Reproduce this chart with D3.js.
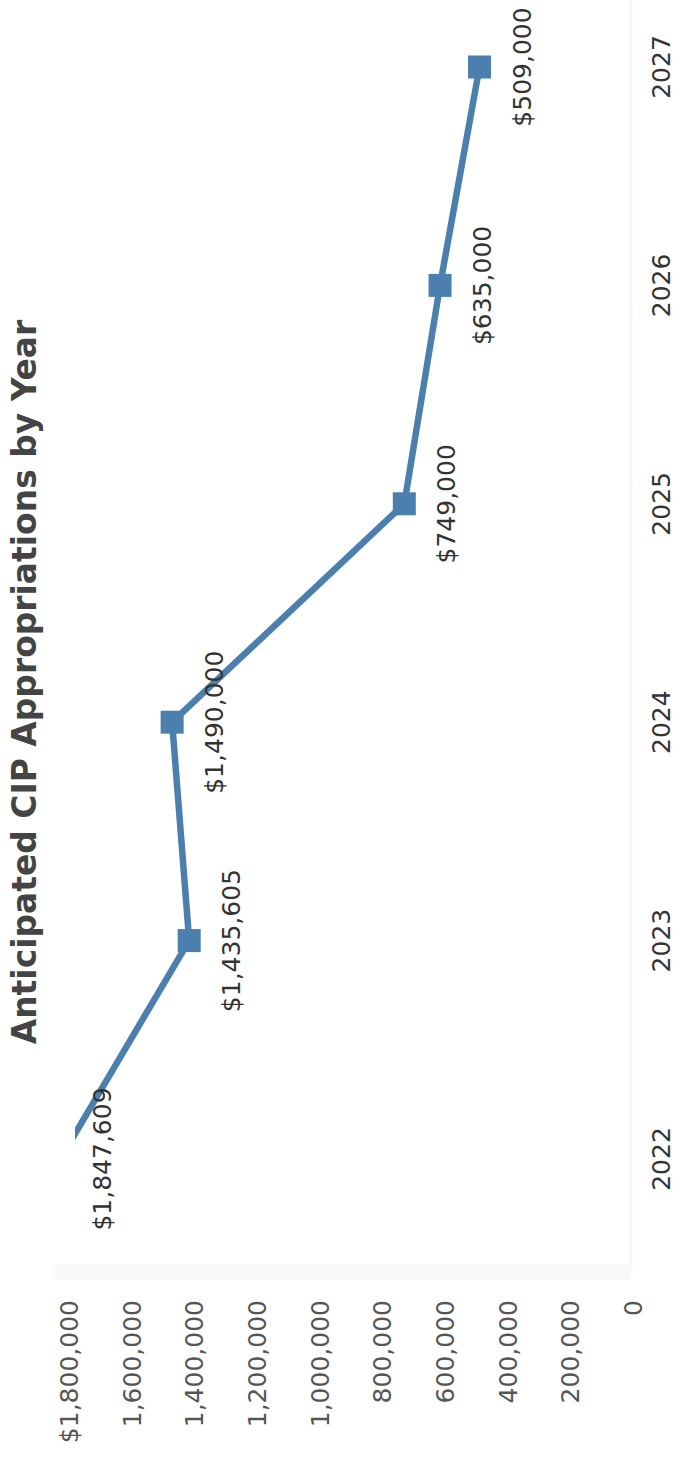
<!DOCTYPE html>
<html>
<head>
<meta charset="utf-8">
<script src="https://cdn.jsdelivr.net/npm/d3@7"></script>
<style>
  html, body { margin: 0; padding: 0; background: #fff; }
  svg { display: block; }
  text { font-family: "DejaVu Sans", Verdana, sans-serif; }
</style>
</head>
<body>
<div id="chart"></div>
<script>
// chart values
const years = ["2022", "2023", "2024", "2025", "2026", "2027"];
const amounts = [1847609, 1435605, 1490000, 749000, 635000, 509000];
const yTicks = [0, 200000, 400000, 600000, 800000, 1000000, 1200000, 1400000, 1600000, 1800000];
const title = "Anticipated CIP Appropriations by Year";

const pageW = 684, pageH = 1457;
// the chart is drawn in landscape, then turned a quarter left
const W = pageH, H = pageW;

const svg = d3.select("#chart").append("svg")
    .attr("width", pageW)
    .attr("height", pageH);

const g = svg.append("g")
    .attr("transform", `translate(0,${pageH}) rotate(-90)`);

const x = d3.scalePoint().domain(years).range([298, 1390]);
const y = d3.scaleLinear().domain([0, 1800000]).range([639, 75]);

const fmt = d3.format(",");

// faint axis lines
g.append("line")
    .attr("x1", 185).attr("x2", W)
    .attr("y1", y(0) - 8).attr("y2", y(0) - 8)
    .attr("stroke", "#f6f6f6").attr("stroke-width", 3);
g.append("line")
    .attr("x1", 185).attr("x2", 185)
    .attr("y1", y(1800000) - 20).attr("y2", y(0) - 8)
    .attr("stroke", "#f8f8f8").attr("stroke-width", 14);

// value axis labels
g.append("g").selectAll("text")
    .data(yTicks)
    .join("text")
    .attr("x", 157)
    .attr("y", d => y(d) - 6)
    .attr("dy", "0.36em")
    .attr("text-anchor", "end")
    .attr("font-size", 25)
    .attr("fill", "#555")
    .text(d => d === 1800000 ? "$" + fmt(d) : fmt(d));

// year labels
g.append("g").selectAll("text")
    .data(years)
    .join("text")
    .attr("x", d => x(d))
    .attr("y", 670)
    .attr("text-anchor", "middle")
    .attr("font-size", 25)
    .attr("fill", "#333")
    .text(d => d);

// clip the line to the plot area
g.append("clipPath").attr("id", "plot")
    .append("rect")
    .attr("x", 185).attr("y", y(1800000))
    .attr("width", W - 185).attr("height", y(0) - y(1800000));

const pts = years.map((yr, i) => ({ year: yr, value: amounts[i] }));

const line = d3.line()
    .x(d => x(d.year))
    .y(d => y(d.value));

const plot = g.append("g").attr("clip-path", "url(#plot)");

plot.append("path")
    .datum(pts)
    .attr("d", line)
    .attr("fill", "none")
    .attr("stroke", "#4b7fae")
    .attr("stroke-width", 6.5)
    .attr("stroke-linejoin", "round");

const sq = 23;
plot.selectAll("rect.mark")
    .data(pts)
    .join("rect")
    .attr("class", "mark")
    .attr("x", d => x(d.year) - sq / 2)
    .attr("y", d => y(d.value) - sq / 2)
    .attr("width", sq)
    .attr("height", sq)
    .attr("fill", "#4b7fae");

// value labels under each point
g.append("g").selectAll("text")
    .data(pts)
    .join("text")
    .attr("x", d => x(d.year))
    .attr("y", d => y(d.value) + 51)
    .attr("text-anchor", "middle")
    .attr("font-size", 25)
    .attr("fill", "#333")
    .text(d => "$" + fmt(d.value));

// title, fitted to the width seen in the picture
const t = g.append("text")
    .attr("x", 775)
    .attr("y", 36)
    .attr("text-anchor", "middle")
    .attr("font-weight", "bold")
    .attr("font-size", 28)
    .attr("fill", "#444")
    .text(title);
const tw = t.node().getComputedTextLength();
t.attr("font-size", 28 * 725 / tw);
</script>
</body>
</html>
